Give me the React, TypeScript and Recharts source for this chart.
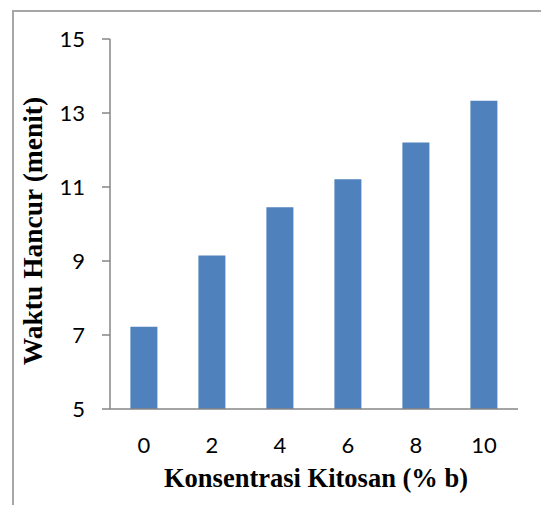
import { Bar, BarChart, XAxis, YAxis } from "recharts";

const categories = ["0", "2", "4", "6", "8", "10"];
const waktuHancur = [7.22, 9.15, 10.45, 11.21, 12.2, 13.33];
const yTicks = [5, 7, 9, 11, 13, 15];
const boundaryTicks = [0, 1, 2, 3, 4, 5, 6];

const rows = categories.map((c, i) => ({ konsentrasi: c, waktu: waktuHancur[i] }));

const AXIS = "#868686";
const BAR = "#4f81bd";
const TICK_FONT = { fill: "#000", fontSize: 22, fontFamily: "Lato, 'Open Sans', sans-serif" };
const TITLE_FONT = "'Liberation Serif', 'Times New Roman', serif";

export default function App() {
  return (
    <div
      style={{
        position: "absolute",
        top: 0,
        left: 0,
        width: 541,
        height: 505,
        background: "#fff",
        overflow: "hidden",
      }}
    >
      {/* frame: only top and left edges show in the crop */}
      <div
        style={{
          position: "absolute",
          top: 10,
          left: 12,
          width: 600,
          height: 600,
          borderTop: "2px solid #a6a6a6",
          borderLeft: "2px solid #a6a6a6",
        }}
      />
      <BarChart
        width={541}
        height={505}
        data={rows}
        margin={{ top: 39, right: 23, bottom: 36, left: 0 }}
        barCategoryGap="30%"
        style={{ position: "absolute", top: 0, left: 0 }}
      >
        <XAxis
          xAxisId="bounds"
          type="number"
          domain={[0, 6]}
          ticks={boundaryTicks}
          allowDataOverflow
          height={0}
          axisLine={false}
          tickSize={8}
          tickLine={{ stroke: AXIS, strokeWidth: 1.5 }}
          tickFormatter={() => ""}
        />
        <XAxis
          dataKey="konsentrasi"
          height={60}
          axisLine={{ stroke: AXIS, strokeWidth: 1.5 }}
          tickLine={false}
          tickSize={6}
          tickMargin={22}
          tick={TICK_FONT}
        />
        <YAxis
          width={110}
          domain={[5, 15]}
          ticks={yTicks}
          allowDataOverflow
          axisLine={{ stroke: AXIS, strokeWidth: 1.5 }}
          tickLine={{ stroke: AXIS, strokeWidth: 1.5 }}
          tickSize={8}
          tickMargin={17}
          tick={TICK_FONT}
        />
        <Bar dataKey="waktu" fill={BAR} isAnimationActive={false} />
      </BarChart>
      <div
        style={{
          position: "absolute",
          left: 116,
          width: 400,
          top: 463,
          textAlign: "center",
          fontFamily: TITLE_FONT,
          fontWeight: "bold",
          fontSize: 26.5,
          lineHeight: "30px",
          color: "#000",
          whiteSpace: "nowrap",
        }}
      >
        Konsentrasi Kitosan (% b)
      </div>
      <div
        style={{
          position: "absolute",
          left: 33 - 200,
          top: 231 - 15,
          width: 400,
          textAlign: "center",
          transform: "rotate(-90deg)",
          fontFamily: TITLE_FONT,
          fontWeight: "bold",
          fontSize: 27.5,
          lineHeight: "30px",
          color: "#000",
          whiteSpace: "nowrap",
        }}
      >
        Waktu Hancur (menit)
      </div>
    </div>
  );
}
